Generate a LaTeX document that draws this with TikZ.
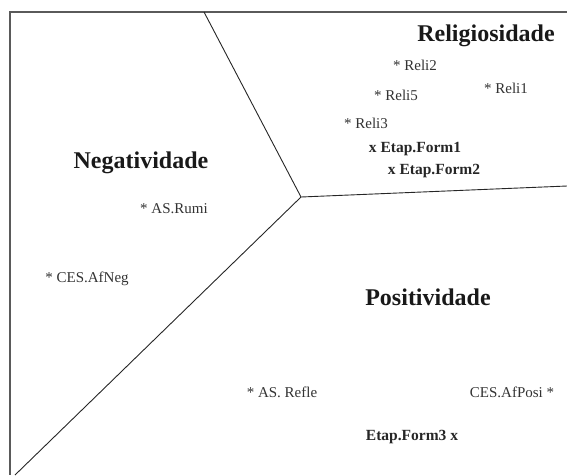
\documentclass[tikz,border=0pt]{standalone}
\usepackage{fontspec}
\setmainfont{Liberation Serif}
\usepackage{xcolor}
\usepackage{tikz}

\definecolor{framegray}{HTML}{5A5A5A}
\definecolor{labelgray}{HTML}{333333}

\begin{document}
\begin{tikzpicture}[x=1pt, y=-1pt,
    region/.style={font=\fontsize{24}{26}\selectfont\bfseries, text=black!90},
    item/.style={font=\fontsize{15}{17}\selectfont, text=labelgray, inner sep=0pt},
    stage/.style={font=\fontsize{15.5}{17}\selectfont\bfseries, text=black!85, inner sep=0pt}]
  \useasboundingbox (0,0) rectangle (567,475);

  % Frame (only top and left side shown)
  \draw[framegray, line width=1.3pt] (567,12) -- (10,12) -- (10,475);

  % Region borders
  \coordinate (top) at (204,12);
  \coordinate (mid) at (301,197);
  \coordinate (right) at (567,186);
  \coordinate (low) at (15,475);
  \draw[black!85, line width=0.9pt] (top) -- (mid) -- (right);
  \draw[black!85, line width=0.9pt] (mid) -- (low);

  % Region names
  \node[region] (religiosidade) at (486,36) {Religiosidade};
  \node[region] (negatividade) at (141,163) {Negatividade};
  \node[region] (positividade) at (428,297) {Positividade};

  % Items
  \foreach \n/\x/\y/\lab in {reli2/415/65/Reli2, reli1/506/88/Reli1,
      reli5/396/95/Reli5, reli3/366/123/Reli3, rumi/174/209/AS.Rumi,
      afneg/87/279/CES.AfNeg, refle/282/392/AS. Refle} {
    \node[item] (\n) at (\x,\y) {* \lab};
  }
  \node[item] (afposi) at (512,392) {CES.AfPosi *};

  % Formation stages
  \node[stage] (form1) at (415,149) {x Etap.Form1};
  \node[stage] (form2) at (434,171) {x Etap.Form2};
  \node[stage] (form3) at (412,437) {Etap.Form3 x};
\end{tikzpicture}
\end{document}
